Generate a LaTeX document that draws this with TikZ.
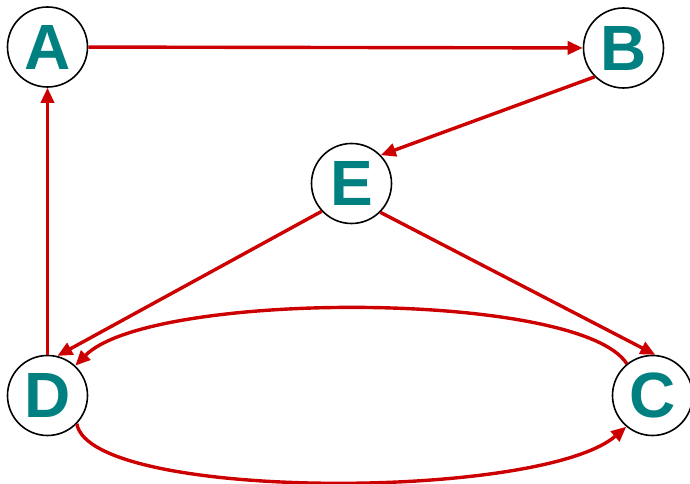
\documentclass[tikz,border=0pt]{standalone}
\usepackage{fontspec}
\setmainfont{Liberation Sans}
\usetikzlibrary{arrows.meta}
\definecolor{teal}{RGB}{0,128,128}
\definecolor{edgered}{RGB}{204,0,0}
\tikzset{
  vertex/.style={circle,draw=black,line width=1.6pt,fill=white,minimum size=80pt,inner sep=0pt,
    font=\fontsize{64}{64}\selectfont\bfseries,text=teal},
  edge/.style={draw=edgered,line width=3.4pt,-{Triangle[length=15pt,width=13pt]}}
}
\begin{document}
\begin{tikzpicture}[x=1pt,y=1pt]
\useasboundingbox (0,0) rectangle (690,484);
\node[vertex] (A) at (47.5,437) {A};
\node[vertex] (B) at (623.5,436) {B};
\node[vertex] (E) at (351.5,300.5) {E};
\node[vertex] (D) at (47.5,88.5) {D};
\node[vertex] (C) at (652.5,88.5) {C};
\draw[edge] (A) -- (B);
\draw[edge] (B.225) -- (E.44);
\draw[edge] (E.223) -- (D.76);
\draw[edge] (E.-45) -- (C.86);
\draw[edge] (D) -- (A);
\draw[edge] (C.129) .. controls (580,194) and (150,194) .. (D.47);
\draw[edge] (D.-44) .. controls (90,-17) and (540,-17) .. (C.230);
\end{tikzpicture}
\end{document}
